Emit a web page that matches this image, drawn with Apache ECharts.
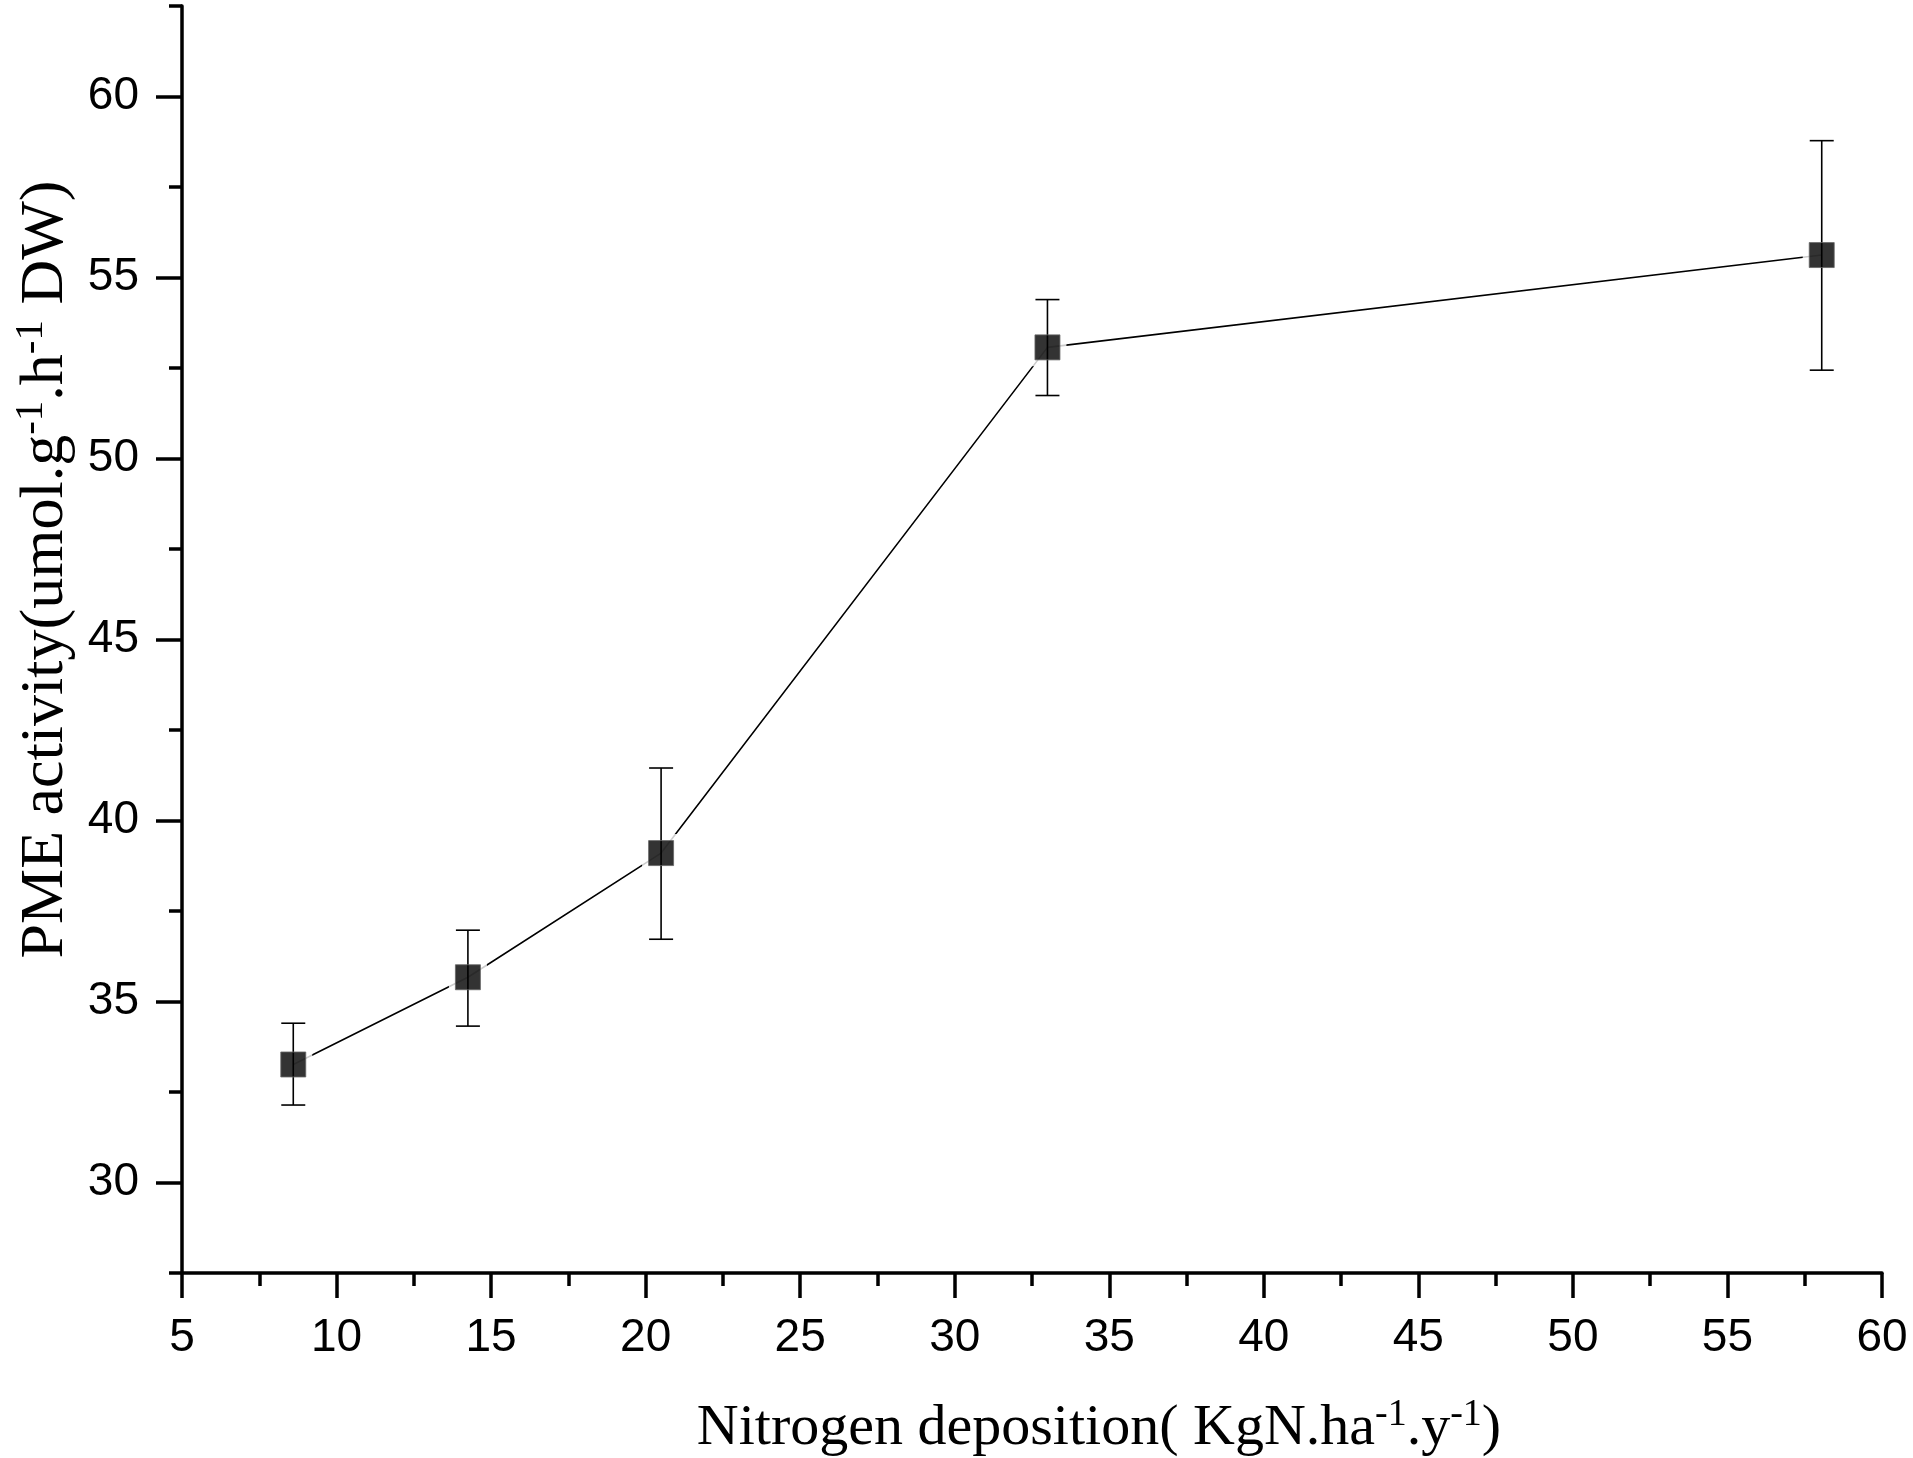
<!DOCTYPE html>
<html>
<head>
<meta charset="utf-8">
<script src="https://cdn.jsdelivr.net/npm/echarts@6/dist/echarts.min.js"></script>
<style>
  html, body { margin: 0; padding: 0; background: #fff; }
  #chart { width: 1913px; height: 1458px; }
</style>
</head>
<body>
<div id="chart"></div>
<script>
// nitrogen deposition (x) vs PME activity (y) with error bars
const deposition = [8.6, 14.25, 20.5, 33.0, 58.05]
const pmeMean = [33.26, 35.67, 39.10, 53.07, 55.62]
const pmeLow = [32.14, 34.32, 36.72, 51.74, 52.44]
const pmeHigh = [34.40, 36.97, 41.45, 54.39, 58.78]

const yMajorTicks = [30, 35, 40, 45, 50, 55, 60]
const yMinorTicks = [27.5, 32.5, 37.5, 42.5, 47.5, 52.5, 57.5, 62.5]

const points = deposition.map((x, i) => [x, pmeMean[i]])
const bars = deposition.map((x, i) => [x, pmeLow[i], pmeHigh[i]])

const chart = echarts.init(document.getElementById('chart'))

const axisLine = { lineStyle: { color: '#000', width: 3.5 } }
const serif = '"Liberation Serif", "Times New Roman", serif'
const sans = '"Liberation Sans", Arial, sans-serif'
function titleRich(size) {
  return {
    t: { fontFamily: serif, fontSize: size, color: '#000', lineHeight: size + 8 },
    s: { fontFamily: serif, fontSize: Math.round(size * 0.66), color: '#000', lineHeight: Math.round(size * 0.66), verticalAlign: 'top' }
  }
}

function renderErrorBar(params, api) {
  const x = api.value(0)
  const lo = api.coord([x, api.value(1)])
  const hi = api.coord([x, api.value(2)])
  const half = 12
  const style = { stroke: '#000', lineWidth: 1.6 }
  return {
    type: 'group',
    children: [
      { type: 'line', shape: { x1: lo[0], y1: lo[1], x2: hi[0], y2: hi[1] }, style },
      { type: 'line', shape: { x1: hi[0] - half, y1: hi[1], x2: hi[0] + half, y2: hi[1] }, style },
      { type: 'line', shape: { x1: lo[0] - half, y1: lo[1], x2: lo[0] + half, y2: lo[1] }, style }
    ]
  }
}

chart.setOption({
  animation: false,
  backgroundColor: '#fff',
  grid: { left: 182, right: 31, top: 6, bottom: 185, outerBoundsMode: 'none', containLabel: false },
  xAxis: {
    type: 'value', min: 5, max: 60, interval: 5,
    axisLine,
    axisTick: { length: 25, lineStyle: { color: '#000', width: 3.5 } },
    minorTick: { show: true, splitNumber: 2, length: 13, lineStyle: { color: '#000', width: 3.5 } },
    splitLine: { show: false },
    axisLabel: { margin: 42, fontFamily: sans, fontSize: 46, color: '#000' },
    name: '{t|Nitrogen deposition( KgN.ha}{s|-1}{t|.y}{s|-1}{t|)}',
    nameLocation: 'middle', nameGap: 123,
    nameTextStyle: { rich: titleRich(58), padding: [0, 0, 0, 134] }
  },
  yAxis: [{
    type: 'value', min: 27.5, max: 62.5,
    axisLine,
    axisTick: { customValues: yMajorTicks, length: 26, lineStyle: { color: '#000', width: 3.5 } },
    splitLine: { show: false },
    axisLabel: { customValues: yMajorTicks, margin: 43, fontFamily: sans, fontSize: 46, color: '#000' },
    name: '{t|PME activity(umol.g}{s|-1}{t|.h}{s|-1}{t| DW)}',
    nameLocation: 'middle', nameGap: 100,
    nameTextStyle: { rich: titleRich(62), padding: [0, 0, 0, 140] }
  }, {
    type: 'value', min: 27.5, max: 62.5, position: 'left',
    axisLine: { show: false },
    axisTick: { show: true, customValues: yMinorTicks, length: 13, lineStyle: { color: '#000', width: 3.5 } },
    axisLabel: { show: false },
    splitLine: { show: false }
  }],
  series: [
    {
      type: 'line', data: points, z: 2,
      showSymbol: false, silent: true,
      lineStyle: { color: '#000', width: 1.6 }
    },
    {
      // white halo so the line stops short of each marker
      type: 'scatter', data: points, z: 3, silent: true,
      symbol: 'rect', symbolSize: 38,
      itemStyle: { color: '#fff' }
    },
    {
      type: 'custom', data: bars, z: 4, silent: true,
      renderItem: renderErrorBar
    },
    {
      type: 'scatter', data: points, z: 5, silent: true,
      symbol: 'rect', symbolSize: 25,
      itemStyle: { color: '#000', borderColor: '#666', borderWidth: 1 }
    }
  ]
})
</script>
</body>
</html>
